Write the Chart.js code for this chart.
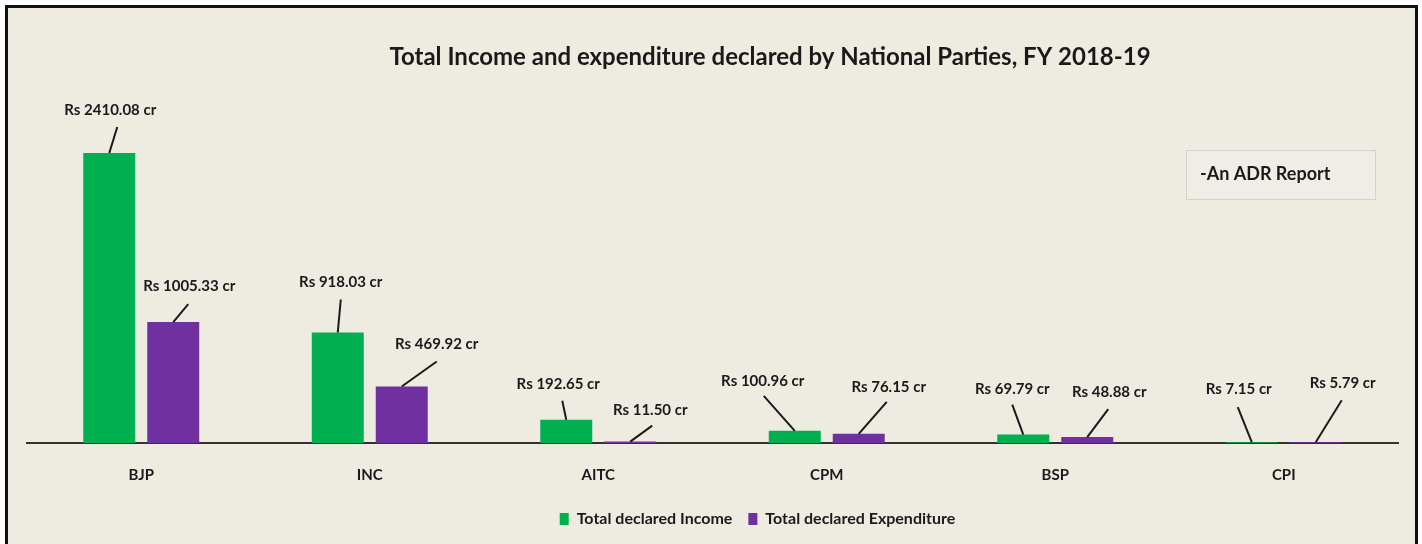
<!DOCTYPE html>
<html>
<head>
<meta charset="utf-8">
<script src="https://cdn.jsdelivr.net/npm/chart.js@4.4.1/dist/chart.umd.min.js"></script>
<style>
    body { margin: 0; background: #ffffff; }
    #frame {
        position: absolute;
        left: 5px;
        top: 5px;
        width: 1407px;
        height: 536px;
        border: 3px solid #111;
        border-bottom: none;
        background: #EEECE1;
    }
</style>
</head>
<body>
<div id="frame"><canvas id="partyChart" width="1407" height="536"></canvas></div>
<script>
// Values (Rs crore)
var parties = ['BJP', 'INC', 'AITC', 'CPM', 'BSP', 'CPI'];
var incomeValues = [2410.08, 918.03, 192.65, 100.96, 69.79, 7.15];
var expenditureValues = [1005.33, 469.92, 11.50, 76.15, 48.88, 5.79];
var seriesNames = ['Total declared Income', 'Total declared Expenditure'];
var chartTitle = 'Total Income and expenditure declared by National Parties, FY 2018-19';

// Where each value label sits relative to the top of its bar: [lineEndX, lineEndY, labelX, labelY]
var incomeLabelOffsets = [[8, -26, 1, -43], [3, -33, 3, -50], [-4, -19, -8, -36], [-31, -35, -32, -50], [-11, -30, -11, -45], [-14, -35, -13, -53]];
var expenseLabelOffsets = [[15, -18, 16, -36], [35, -25, 35, -42], [22, -16, 20, -31], [28, -32, 30, -47], [21, -28, 22, -45], [26, -42, 27, -59]];

var fontFamily = 'Lato, "Open Sans", sans-serif';

// Leader lines and "Rs ... cr" labels
var valueLabels = {
    id: 'valueLabels',
    afterDatasetsDraw: function(chart) {
        var ctx = chart.ctx;
        var offsetSets = [incomeLabelOffsets, expenseLabelOffsets];
        ctx.save();
        chart.data.datasets.forEach(function(ds, di) {
            var meta = chart.getDatasetMeta(di);
            meta.data.forEach(function(bar, i) {
                var o = offsetSets[di][i];
                ctx.strokeStyle = '#1a1a1a';
                ctx.lineWidth = 2;
                ctx.beginPath();
                ctx.moveTo(bar.x, bar.y);
                ctx.lineTo(bar.x + o[0], bar.y + o[1]);
                ctx.stroke();
                ctx.fillStyle = '#1a1a1a';
                ctx.font = 'bold 15px ' + fontFamily;
                ctx.textAlign = 'center';
                ctx.textBaseline = 'middle';
                ctx.fillText('Rs ' + ds.data[i].toFixed(2) + ' cr', bar.x + o[2], bar.y + o[3]);
            });
        });
        ctx.restore();
    }
};

// Title (sits right of centre in the original) and the "-An ADR Report" note box
var headerAndNote = {
    id: 'headerAndNote',
    afterDraw: function(chart) {
        var ctx = chart.ctx;
        ctx.save();
        ctx.fillStyle = '#1a1a1a';
        ctx.font = 'bold 24px ' + fontFamily;
        ctx.textAlign = 'center';
        ctx.textBaseline = 'middle';
        ctx.fillText(chartTitle, 762, 49);

        ctx.fillStyle = '#EFEDE5';
        ctx.fillRect(1178, 142, 189, 49);
        ctx.strokeStyle = '#d6d3c8';
        ctx.lineWidth = 1;
        ctx.strokeRect(1178.5, 142.5, 189, 49);
        ctx.fillStyle = '#1a1a1a';
        ctx.font = 'bold 18px ' + fontFamily;
        ctx.textAlign = 'left';
        ctx.fillText('-An ADR Report', 1192, 166);
        ctx.restore();
    }
};

// The legend in the original sits a little right of centre
var legendShift = {
    id: 'legendShift',
    afterLayout: function(chart) {
        if (chart.legend) {
            chart.legend.left += 45;
            chart.legend.right += 45;
        }
    }
};

var ctx = document.getElementById('partyChart').getContext('2d');
var partyChart = new Chart(ctx, {
    type: 'bar',
    data: {
        labels: parties,
        datasets: [{
            label: seriesNames[0],
            data: incomeValues,
            backgroundColor: '#00B050'
        }, {
            label: seriesNames[1],
            data: expenditureValues,
            backgroundColor: '#7030A0'
        }]
    },
    options: {
        responsive: false,
        animation: false,
        layout: {
            padding: { left: 19, right: 17, top: 74, bottom: 7 }
        },
        datasets: {
            bar: {
                categoryPercentage: 0.56,
                barPercentage: 0.8125
            }
        },
        scales: {
            x: {
                z: 1, // axis line over the bars, as in the original
                grid: { display: false, drawTicks: false },
                border: { display: true, color: '#333', width: 2 },
                ticks: {
                    padding: 23,
                    color: '#1a1a1a',
                    font: { family: fontFamily, size: 15, weight: 'bold' }
                },
                afterFit: function(scale) {
                    scale.height = 52;
                }
            },
            y: {
                display: false,
                min: 0,
                max: 3000
            }
        },
        plugins: {
            title: { display: false },
            legend: {
                position: 'bottom',
                labels: {
                    boxWidth: 9,
                    boxHeight: 12,
                    padding: 16,
                    color: '#1a1a1a',
                    font: { family: fontFamily, size: 16, weight: 'bold' }
                }
            },
            tooltip: { enabled: false }
        }
    },
    plugins: [valueLabels, headerAndNote, legendShift]
});
</script>
</body>
</html>
